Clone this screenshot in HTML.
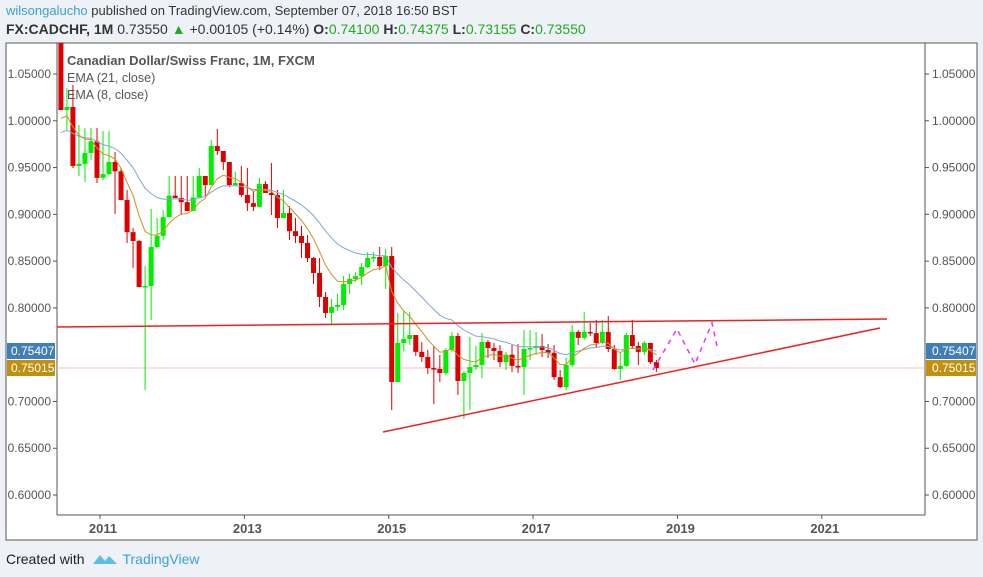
<!DOCTYPE html>
<html><head><meta charset="utf-8">
<style>
body{margin:0;width:983px;height:577px;background:#eef2f6;font-family:"Liberation Sans",sans-serif;overflow:hidden;position:relative}
.h1{position:absolute;left:6px;top:3px;font-size:13px;color:#333}
.h1 b{color:#3aa0d8;font-weight:normal}
.h2{position:absolute;left:6px;top:21px;font-size:14px;color:#333}
.g{color:#22aa22}
svg{position:absolute;left:0;top:0}
.ft{position:absolute;left:6px;top:550px;font-size:14px;color:#222}
.ft span{color:#3aa0d8;margin-left:8px}
</style></head><body>
<div class="h1"><b>wilsongalucho</b> published on TradingView.com, September 07, 2018 16:50 BST</div>
<div class="h2"><b>FX:CADCHF, 1M</b> 0.73550 <span class="g">▲</span> +0.00105 (+0.14%) <b>O:</b><span class="g">0.74100</span> <b>H:</b><span class="g">0.74375</span> <b>L:</b><span class="g">0.73155</span> <b>C:</b><span class="g">0.73550</span></div>
<svg id="c" width="983" height="577"></svg>
<div class="ft">Created with <svg width="26" height="14" viewBox="0 0 26 14" style="position:relative;left:4px;top:2px"><path d="M1 12 L8 3 L13 9 L17 4 L25 12 Z" fill="#5bbde8"/></svg><span>TradingView</span></div>
<script>
const closes=[1.0115,1.0147,0.9517,0.954,0.9656,0.978,0.939,0.943,0.956,0.946,0.9153,0.881,0.8715,0.8223,0.8234,0.865,0.877,0.897,0.920,0.9175,0.913,0.9036,0.918,0.941,0.9313,0.973,0.9677,0.956,0.9313,0.9335,0.9207,0.912,0.908,0.9324,0.9228,0.9207,0.896,0.9014,0.882,0.8769,0.8694,0.8533,0.8373,0.8117,0.7946,0.801,0.803,0.8256,0.8309,0.834,0.8437,0.8533,0.8544,0.8448,0.8555,0.7208,0.7625,0.7668,0.771,0.753,0.7475,0.7357,0.7347,0.7304,0.755,0.770,0.7219,0.7304,0.7368,0.739,0.7635,0.7571,0.754,0.742,0.750,0.738,0.7368,0.756,0.7571,0.7593,0.755,0.752,0.726,0.7154,0.739,0.7743,0.768,0.7743,0.773,0.7625,0.7743,0.756,0.7347,0.738,0.771,0.7593,0.753,0.7625,0.742,0.7357];
const highYpx=[40,88,85,125,128,128,128,131,131,152,168,190,228,240,266,209,218,210,176,176,176,176,176,168,176,140,129,154,162,172,166,168,191,178,181,163,190,190,206,218,226,235,257,258,292,299,294,276,274,272,263,252,252,247,249,247,313,311,312,335,342,350,346,355,348,332,333,371,337,346,333,340,343,345,352,345,344,330,330,332,334,344,345,370,358,325,330,312,323,320,320,316,345,353,333,320,342,341,343,360];
const lowYpx=[110,130,168,176,182,160,183,180,175,214,200,243,268,287,390,320,248,240,217,198,215,211,211,197,196,185,155,170,187,186,197,211,211,207,193,215,228,218,240,243,258,262,284,307,318,325,311,310,294,282,285,268,262,270,289,410,379,351,345,356,362,374,404,382,375,352,395,419,410,370,378,358,360,367,370,372,373,395,360,355,357,358,380,388,390,367,345,340,336,348,344,352,370,380,367,348,365,355,364,372];
const firstOpen=1.087;
const yTicks=[1.05,1.00,0.95,0.90,0.85,0.80,0.70,0.65,0.60];
const xYears=[2011,2013,2015,2017,2019,2021];
const Y=v=>74+(1.05-v)/0.05*46.78;
const V=py=>1.05-(py-74)/935.6;
const highs=highYpx.map(V), lows=lowYpx.map(V);
const X=i=>60.9+6.015*i;
const XY=yr=>100+(yr-2011)*72.18;
const ns='http://www.w3.org/2000/svg', svg=document.getElementById('c');
function mk(t,a,p){const e=document.createElementNS(ns,t);for(const k in a)e.setAttribute(k,a[k]);(p||svg).appendChild(e);return e;}
mk('rect',{x:6,y:43,width:971,height:497,fill:'#fff',stroke:'#555'});
mk('line',{x1:57,y1:43,x2:57,y2:515,stroke:'#555'});
mk('line',{x1:925,y1:43,x2:925,y2:515,stroke:'#555'});
mk('line',{x1:57,y1:515,x2:925,y2:515,stroke:'#555'});
yTicks.forEach(v=>{const y=Y(v);
mk('line',{x1:53,x2:57,y1:y,y2:y,stroke:'#555'});mk('line',{x1:925,x2:929,y1:y,y2:y,stroke:'#555'});
let t=mk('text',{x:51,y:y+4,'text-anchor':'end','font-size':12,fill:'#555'});t.textContent=v.toFixed(5);

t=mk('text',{x:932,y:y+4,'font-size':12,fill:'#555'});t.textContent=v.toFixed(5);
});
xYears.forEach(yr=>{const x=XY(yr);mk('line',{x1:x,x2:x,y1:515,y2:519,stroke:'#555'});
const t=mk('text',{x:x+3,y:533,'text-anchor':'middle','font-size':13,'font-weight':'bold',fill:'#555'});t.textContent=yr;
});
const lastY=Y(closes[closes.length-1]);
mk('line',{x1:57,x2:925,y1:lastY,y2:lastY,stroke:'#f8c0c0'});
closes.forEach((c,i)=>{const o=i?closes[i-1]:firstOpen;const up=c>=o;const col=up?'#00ee00':'#dd0000';const x=X(i);
const w=mk('line',{x1:x,x2:x,y1:Math.max(43,Y(highs[i])),y2:Y(lows[i]),stroke:col,'stroke-width':1});

const t=Math.max(43,Y(Math.max(o,c))),b=Y(Math.min(o,c));
const r=mk('rect',{x:x-2.5,y:t,width:5,height:Math.max(1.5,b-t),fill:col});
});
function ema(n,seed){const k=2/(n+1);let e=seed;return closes.map(c=>e=c*k+e*(1-k));}
function line(arr,col,name){const p=mk('polyline',{points:arr.map((v,i)=>X(i)+','+Y(v)).join(' '),fill:'none',stroke:col,'stroke-width':1});
}
line(ema(21,0.985),'#7ea6d4','ema-21-line');
line(ema(8,1.0),'#d09020','ema-8-line');
let l=mk('line',{x1:57,y1:327,x2:887,y2:319,stroke:'#f02020','stroke-width':1.5});

l=mk('line',{x1:383,y1:432,x2:880,y2:328,stroke:'#f02020','stroke-width':1.5});

l=mk('polyline',{points:'653,370 677,329 695,364 712,323 717,346',fill:'none',stroke:'#ee33ee','stroke-width':1.5,'stroke-dasharray':'5,5'});

[['Canadian Dollar/Swiss Franc, 1M, FXCM',65,'#555',13,'bold'],['EMA (21, close)',82,'#555',12.5,'normal'],['EMA (8, close)',99,'#555',12.5,'normal']].forEach(a=>{
const t=mk('text',{x:67,y:a[1],'font-size':a[3],'font-weight':a[4],fill:a[2]});t.textContent=a[0];
});
[[351,'#3f7fb5','0.75407'],[368,'#c09010','0.75015']].forEach(a=>{
mk('rect',{x:7,y:a[0]-8,width:48,height:16,fill:a[1]});mk('rect',{x:926,y:a[0]-8,width:50,height:16,fill:a[1]});
let t=mk('text',{x:11,y:a[0]+4,'font-size':12,fill:'#fff'});t.textContent=a[2];

t=mk('text',{x:932,y:a[0]+4,'font-size':12,fill:'#fff'});t.textContent=a[2];
});
</script>
</body></html>
